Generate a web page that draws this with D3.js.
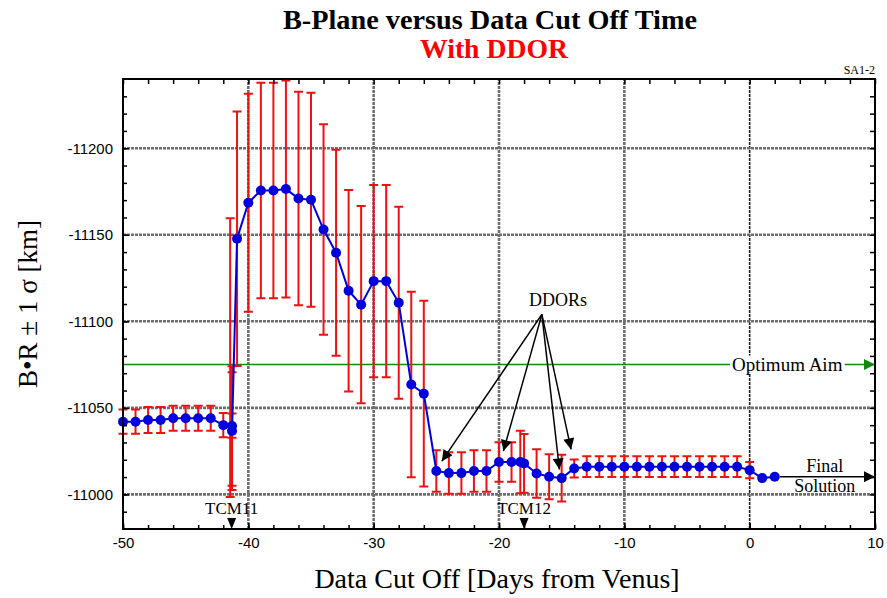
<!DOCTYPE html>
<html>
<head>
<meta charset="utf-8">
<script src="https://cdnjs.cloudflare.com/ajax/libs/d3/7.8.5/d3.min.js"></script>
<style>
  body { margin: 0; background: #fff; }
  svg { display: block; }
</style>
</head>
<body>
<div id="chart"></div>
<script>
'use strict';

// data cut off [days from Venus]
var days = [-50, -49, -48, -47, -46, -45, -44, -43, -42, -41.3, -41.3,
  -40.9, -40, -39, -38, -37, -36, -35, -34, -33, -32, -31, -30, -29, -28, -27, -26,
  -25, -24, -23, -22, -21, -20, -19, -18.3, -18, -17, -16, -15,
  -14, -13, -12, -11, -10, -9, -8, -7, -6, -5, -4, -3, -2, -1, 0, 1, 2];

// B.R [km]
var brValues = [-11042, -11042, -11043, -11043, -11044, -11044, -11044, -11044, -11040, -11039.5, -11036.6,
  -11147.7, -11168.5, -11175.6, -11175.6, -11176.4, -11171, -11170.2, -11153, -11139.6, -11117.7, -11109.6,
  -11123.2, -11123.2, -11110.7, -11063.5, -11058.2,
  -11013.5, -11012.3, -11012.3, -11013.5, -11013.5, -11018.7, -11018.7, -11018.7, -11017.9, -11012.1, -11010.2, -11009.4,
  -11015, -11016, -11016, -11016, -11016, -11016, -11016, -11016, -11016, -11016, -11016, -11016, -11016, -11016,
  -11014, -11009.4, -11010.2];

// 1 sigma [km], null = no bar
var sigmas = [7, 7, 7.5, 7.5, 7.2, 7.2, 7.2, 7.2, 7, 34.5, 34,
  73.5, 63, 62.3, 62.3, 62.7, 61.7, 61.8, 60.8, 59.5, 58.2, 57, 55.5, 55.5, 55.5, 53.6, 53.7,
  12, 12, 12, 12, 12, 11.4, 11.4, 18, 17, 14, 13, 13.5,
  5.2, 6, 6, 6, 6, 6, 6, 6, 6, 6, 6, 6, 6, 6, 4.7, null, null];

// bars at TCM11 without a plotted point
var extraDays = [-41.3, -41.45];
var extraCentres = [-11039.7, -11079];
var extraSigmas = [7, 80.5];

var tcmLabels = ['TCM11', 'TCM12'];
var tcmDays = [-41.33, -18.0];

var xTicks = [-50, -40, -30, -20, -10, 0, 10];
var yTicks = [-11200, -11150, -11100, -11050, -11000];

var optimumAim = -11075;

// DDOR arrows: [from day, from km] -> [to day, to km]
var ddorFrom = [-16.58, -11104];
var ddorTo = [[-24.56, -11019.2], [-19.65, -11025], [-15.18, -11014.4], [-14.25, -11026]];

var width = 887, height = 598;
var margin = {top: 79, right: 12, bottom: 69, left: 123};

var x = d3.scaleLinear().domain([-50, 10]).range([margin.left, width - margin.right]);
var y = d3.scaleLinear().domain([-10980, -11240]).range([height - margin.bottom, margin.top]);

var serif = "'Liberation Serif', 'Times New Roman', serif";
var sans = "'Liberation Sans', Arial, sans-serif";

var svg = d3.select('#chart').append('svg')
    .attr('width', width)
    .attr('height', height);

var defs = svg.append('defs');
var addMarker = function(id, color, w, h){
  defs.append('marker')
      .attr('id', id)
      .attr('viewBox', '0 0 10 10')
      .attr('refX', 10).attr('refY', 5)
      .attr('markerUnits', 'userSpaceOnUse')
      .attr('markerWidth', w).attr('markerHeight', h)
      .attr('orient', 'auto')
    .append('path')
      .attr('d', 'M0,0 L10,5 L0,10 Z')
      .attr('fill', color);
};
addMarker('arrBlack', '#000', 16, 11);
addMarker('arrGreen', '#118811', 17, 11);
addMarker('arrFinal', '#000', 17, 11);

var x0 = x.range()[0], x1 = x.range()[1];
var y0 = y.range()[0], y1 = y.range()[1];

// grid
var grid = svg.append('g');
grid.selectAll('.gx')
    .data(xTicks.slice(1, -1))
  .enter().append('line')
    .attr('x1', function(d){ return x(d); })
    .attr('x2', function(d){ return x(d); })
    .attr('y1', y0).attr('y2', y1)
    .attr('stroke', function(d){ return d === 0 ? '#222' : '#6e6e6e'; })
    .attr('stroke-width', function(d){ return d === 0 ? 1.6 : 2.6; })
    .attr('stroke-dasharray', '3,1');
grid.selectAll('.gy')
    .data(yTicks)
  .enter().append('line')
    .attr('x1', x0).attr('x2', x1)
    .attr('y1', function(d){ return y(d); })
    .attr('y2', function(d){ return y(d); })
    .attr('stroke', '#6e6e6e')
    .attr('stroke-width', 2.6)
    .attr('stroke-dasharray', '3,1');

// optimum aim
svg.append('line')
    .attr('x1', x0).attr('x2', x1)
    .attr('y1', y(optimumAim)).attr('y2', y(optimumAim))
    .attr('stroke', '#118811')
    .attr('stroke-width', 1.5)
    .attr('marker-end', 'url(#arrGreen)');

var aimText = svg.append('text')
    .attr('x', x(3.0)).attr('y', y(optimumAim) + 6)
    .attr('text-anchor', 'middle')
    .style('font-family', serif).style('font-size', '19px')
    .text('Optimum Aim');
var bb = aimText.node().getBBox();
svg.insert('rect', 'text')
    .attr('x', bb.x - 2).attr('y', bb.y + 2)
    .attr('width', bb.width + 4).attr('height', bb.height - 4)
    .attr('fill', '#fff');

// error bars
var pts = days.map(function(d, i){
  return {day: d, v: brValues[i], s: sigmas[i]};
});
var bars = pts.filter(function(d){ return d.s !== null; })
  .concat(extraDays.map(function(d, i){ return {day: d, v: extraCentres[i], s: extraSigmas[i]}; }));

var eb = svg.append('g')
    .attr('stroke', '#ee1111')
    .attr('stroke-width', 2);
eb.selectAll('.bar')
    .data(bars)
  .enter().append('path')
    .attr('fill', 'none')
    .attr('d', function(d){
      var cx = x(d.day), t = y(d.v - d.s), b = y(d.v + d.s);
      return 'M' + cx + ',' + t + 'V' + b +
        'M' + (cx - 4.5) + ',' + t + 'H' + (cx + 4.5) +
        'M' + (cx - 4.5) + ',' + b + 'H' + (cx + 4.5);
    });

// series
var line = d3.line()
    .x(function(d){ return x(d.day); })
    .y(function(d){ return y(d.v); });

svg.append('path')
    .datum(pts)
    .attr('d', line)
    .attr('fill', 'none')
    .attr('stroke', '#0000dd')
    .attr('stroke-width', 2);

svg.selectAll('.dot')
    .data(pts)
  .enter().append('circle')
    .attr('cx', function(d){ return x(d.day); })
    .attr('cy', function(d){ return y(d.v); })
    .attr('r', 5)
    .attr('fill', '#0000dd');

// final solution arrow
var last = pts[pts.length - 1];
svg.append('line')
    .attr('x1', x(last.day) + 5).attr('x2', x1)
    .attr('y1', y(last.v)).attr('y2', y(last.v))
    .attr('stroke', '#000')
    .attr('stroke-width', 1.5)
    .attr('marker-end', 'url(#arrFinal)');
svg.append('text')
    .attr('x', x(6.0)).attr('y', y(last.v) - 5)
    .attr('text-anchor', 'middle')
    .style('font-family', serif).style('font-size', '18px')
    .text('Final');
svg.append('text')
    .attr('x', x(6.0)).attr('y', y(last.v) + 15)
    .attr('text-anchor', 'middle')
    .style('font-family', serif).style('font-size', '18px')
    .text('Solution');

// DDOR annotation
svg.append('text')
    .attr('x', x(-15.3)).attr('y', y(-11112.6) + 6)
    .attr('text-anchor', 'middle')
    .style('font-family', serif).style('font-size', '18px')
    .text('DDORs');
svg.selectAll('.ddor')
    .data(ddorTo)
  .enter().append('line')
    .attr('x1', x(ddorFrom[0])).attr('y1', y(ddorFrom[1]))
    .attr('x2', function(d){ return x(d[0]); })
    .attr('y2', function(d){ return y(d[1]); })
    .attr('stroke', '#000')
    .attr('stroke-width', 1.5)
    .attr('marker-end', 'url(#arrBlack)');

// TCM markers
var tcm = svg.selectAll('.tcm')
    .data(tcmDays)
  .enter().append('g');
tcm.append('path')
    .attr('d', function(d){
      var cx = x(d);
      return 'M' + (cx - 4.5) + ',' + (y0 - 11) + 'L' + (cx + 4.5) + ',' + (y0 - 11) + 'L' + cx + ',' + y0 + 'Z';
    })
    .attr('fill', '#000');
tcm.append('text')
    .attr('x', function(d){ return x(d); })
    .attr('y', y0 - 15)
    .attr('text-anchor', 'middle')
    .style('font-family', serif).style('font-size', '17px')
    .text(function(d, i){ return tcmLabels[i]; });

// axes
var fmt = function(d){ return d3.format('d')(d).replace('\u2212', '-'); };

var xMajor = d3.axisBottom(x).tickValues(xTicks).tickSize(-6).tickPadding(8).tickFormat(fmt);
var xMinor = d3.axisBottom(x).tickValues(d3.range(-50, 11, 2)).tickSize(-4).tickFormat('');
var yMajor = d3.axisLeft(y).tickValues(yTicks).tickSize(-6).tickPadding(10).tickFormat(fmt);
var yMinor = d3.axisLeft(y).tickValues(d3.range(-11230, -10980, 10)).tickSize(-4).tickFormat('');

var styleAxis = function(g){
  g.select('.domain').remove();
  g.selectAll('line').attr('stroke', '#000').attr('stroke-width', 1.5);
  g.selectAll('text').style('font-family', sans).style('font-size', '15px').attr('fill', '#000');
};

svg.append('g').attr('transform', 'translate(0,' + y0 + ')').call(xMinor).call(styleAxis);
svg.append('g').attr('transform', 'translate(0,' + y0 + ')').call(xMajor).call(styleAxis);
svg.append('g').attr('transform', 'translate(0,' + y1 + ')').call(d3.axisTop(x).tickValues(d3.range(-50, 11, 2)).tickSize(-5).tickFormat('')).call(styleAxis);
svg.append('g').attr('transform', 'translate(' + x0 + ',0)').call(yMinor).call(styleAxis);
svg.append('g').attr('transform', 'translate(' + x0 + ',0)').call(yMajor).call(styleAxis);
svg.append('g').attr('transform', 'translate(' + x1 + ',0)').call(d3.axisRight(y).tickValues(d3.range(-11230, -10980, 10)).tickSize(-5).tickFormat('')).call(styleAxis);

svg.append('rect')
    .attr('x', x0).attr('y', y1)
    .attr('width', x1 - x0).attr('height', y0 - y1)
    .attr('fill', 'none')
    .attr('stroke', '#000')
    .attr('stroke-width', 2);

// titles
svg.append('text')
    .attr('x', 490).attr('y', 29)
    .attr('text-anchor', 'middle')
    .attr('textLength', 414).attr('lengthAdjust', 'spacingAndGlyphs')
    .style('font-family', serif).style('font-size', '28px').style('font-weight', 'bold')
    .text('B-Plane versus Data Cut Off Time');
svg.append('text')
    .attr('x', 494).attr('y', 58)
    .attr('text-anchor', 'middle')
    .attr('textLength', 148).attr('lengthAdjust', 'spacingAndGlyphs')
    .style('font-family', serif).style('font-size', '28px').style('font-weight', 'bold')
    .attr('fill', '#ff0000')
    .text('With DDOR');
svg.append('text')
    .attr('x', x1).attr('y', y1 - 5)
    .attr('text-anchor', 'end')
    .style('font-family', serif).style('font-size', '12px')
    .text('SA1-2');

svg.append('text')
    .attr('x', 497).attr('y', 588)
    .attr('text-anchor', 'middle')
    .style('font-family', serif).style('font-size', '28px')
    .text('Data Cut Off [Days from Venus]');
svg.append('text')
    .attr('transform', 'translate(37,' + ((y0 + y1) / 2) + ') rotate(-90)')
    .attr('text-anchor', 'middle')
    .style('font-family', serif).style('font-size', '27px')
    .text('B\u2022R \u00b1 1 \u03c3 [km]');
</script>
</body>
</html>
